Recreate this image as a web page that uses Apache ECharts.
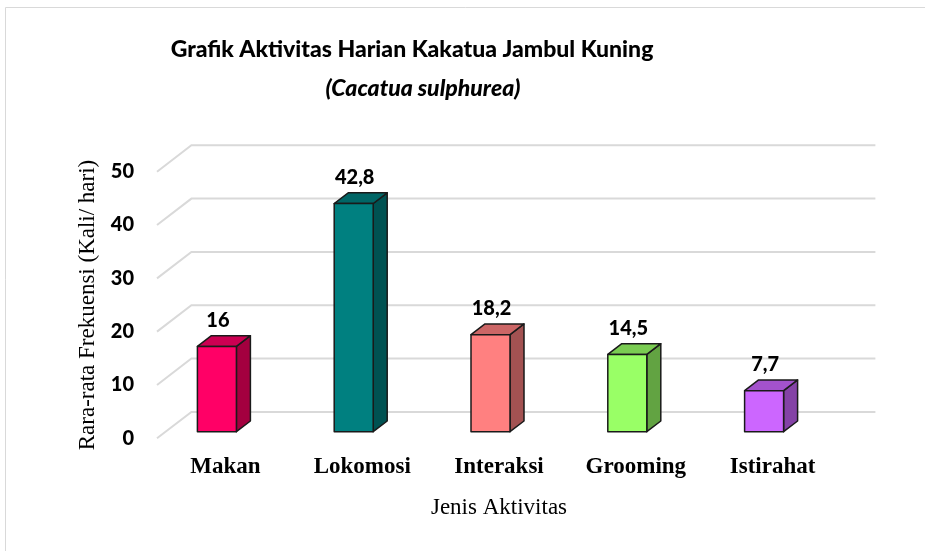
<!DOCTYPE html>
<html>
<head>
<meta charset="utf-8">
<script src="https://cdn.jsdelivr.net/npm/echarts@6.0.0/dist/echarts.min.js"></script>
<style>
  html, body { margin: 0; padding: 0; background: #fff; }
  #chart { width: 925px; height: 551px; }
</style>
</head>
<body>
<div id="chart"></div>
<script>
// data
const categories = ['Makan', 'Lokomosi', 'Interaksi', 'Grooming', 'Istirahat'];
const values = [16, 42.8, 18.2, 14.5, 7.7];
const yTicks = [0, 10, 20, 30, 40, 50];

// front / top / side colours per bar
const frontColors = ['#FF0066', '#008080', '#FF8080', '#99FF66', '#CC66FF'];
const topColors = ['#CC0052', '#006666', '#CC6666', '#7ACC52', '#A352CC'];
const sideColors = ['#A3003F', '#005252', '#A35252', '#62A342', '#8442A6'];

// fake 3d depth
const wallDx = 34.4, wallDy = -26.4;
const barDx = 14, barDy = -10.7;
const barHalf = 19.5, barShift = -8.5, barLift = -6.6;

const chart = echarts.init(document.getElementById('chart'));

function fmt(v) {
  return String(v).replace('.', ',');
}

const option = {
  animation: false,
  graphic: [
    {
      type: 'rect', silent: true, z: -10,
      shape: { x: 5.5, y: 7.5, width: 1000, height: 1000 },
      style: { fill: 'none', stroke: '#D9D9D9', lineWidth: 1 }
    },
    {
      type: 'text', x: 412, y: 50,
      style: {
        text: 'Grafik Aktivitas Harian Kakatua Jambul Kuning',
        align: 'center', verticalAlign: 'middle',
        font: '900 23px Lato', fill: '#000'
      }
    },
    {
      type: 'text', x: 423, y: 89,
      style: {
        text: '(Cacatua sulphurea)',
        align: 'center', verticalAlign: 'middle',
        font: 'italic 900 23px Lato', fill: '#000'
      }
    }
  ],
  grid: {
    left: 157, right: 84, top: 171.7, bottom: 112.7
  },
  xAxis: {
    type: 'category',
    data: categories,
    axisLine: { show: false },
    axisTick: { show: false },
    axisLabel: {
      margin: 17,
      fontFamily: 'Liberation Serif',
      fontWeight: 'bold',
      fontSize: 23,
      color: '#000'
    },
    name: 'Jenis Aktivitas',
    nameLocation: 'middle',
    nameGap: 58,
    nameTextStyle: { fontFamily: 'Liberation Serif', fontSize: 23, color: '#000' }
  },
  yAxis: {
    type: 'value',
    min: 0, max: 50, interval: 10,
    axisLine: { show: false },
    axisTick: { show: false },
    splitLine: { show: false },
    axisLabel: {
      margin: 23,
      fontFamily: 'Lato',
      fontWeight: 900,
      fontSize: 20,
      color: '#000'
    },
    name: 'Rara-rata Frekuensi (Kali/ hari)',
    nameLocation: 'middle',
    nameGap: 53,
    nameTextStyle: { fontFamily: 'Liberation Serif', fontSize: 23, color: '#000' }
  },
  series: [
    {
      // gridlines with the diagonal floor-to-wall piece
      type: 'custom',
      silent: true,
      z: 1,
      data: yTicks.map(t => [0, t]),
      renderItem: function (params, api) {
        const cs = params.coordSys;
        const y = api.coord([0, api.value(1)])[1];
        return {
          type: 'polyline',
          shape: {
            points: [
              [cs.x, y],
              [cs.x + wallDx, y + wallDy],
              [cs.x + cs.width + wallDx, y + wallDy]
            ]
          },
          style: { stroke: '#D9D9D9', lineWidth: 2, fill: 'none' }
        };
      }
    },
    {
      type: 'custom',
      z: 2,
      data: values.map((v, i) => [i, v]),
      renderItem: function (params, api) {
        const i = api.value(0);
        const v = api.value(1);
        const base = api.coord([i, 0]);
        const top = api.coord([i, v]);
        const cx = base[0] + barShift;
        const x1 = cx - barHalf, x2 = cx + barHalf;
        const yb = base[1] + barLift, yt = top[1] + barLift;
        const line = { stroke: '#1a1a1a', lineWidth: 1.5, lineJoin: 'round' };
        return {
          type: 'group',
          children: [
            {
              type: 'polygon',
              shape: { points: [[x2, yt], [x2 + barDx, yt + barDy], [x2 + barDx, yb + barDy], [x2, yb]] },
              style: Object.assign({ fill: sideColors[i] }, line)
            },
            {
              type: 'polygon',
              shape: { points: [[x1, yt], [x2, yt], [x2 + barDx, yt + barDy], [x1 + barDx, yt + barDy]] },
              style: Object.assign({ fill: topColors[i] }, line)
            },
            {
              type: 'rect',
              shape: { x: x1, y: yt, width: x2 - x1, height: yb - yt },
              style: Object.assign({ fill: frontColors[i] }, line)
            },
            {
              type: 'text',
              x: cx + 1, y: yt + barDy - 15,
              style: {
                text: fmt(v),
                align: 'center', verticalAlign: 'middle',
                font: '900 20px Lato', fill: '#000'
              }
            }
          ]
        };
      }
    }
  ]
};

chart.setOption(option);
</script>
</body>
</html>
